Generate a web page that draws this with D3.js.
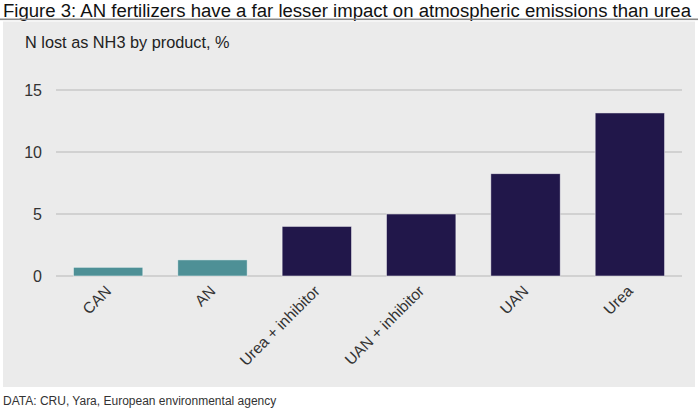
<!DOCTYPE html>
<html><head><meta charset="utf-8">
<script src="https://cdn.jsdelivr.net/npm/d3@7"></script>
<style>
body{margin:0;background:#fff;}
svg text{font-family:"Liberation Sans",Arial,sans-serif;}
</style></head>
<body>
<svg id="chart" width="698" height="410"></svg>
<script>
const categories = ["CAN","AN","Urea + inhibitor","UAN + inhibitor","UAN","Urea"];
const values = [0.7, 1.3, 4.0, 5.0, 8.25, 13.15];
const groups = ["AN","AN","other","other","other","other"];
const yTicks = [0, 5, 10, 15];
const titleText = "Figure 3: AN fertilizers have a far lesser impact on atmospheric emissions than urea";
const yTitle = "N lost as NH3 by product, %";
const sourceText = "DATA: CRU, Yara, European environmental agency";

const svg = d3.select("#chart");
const W = 698;

// title
svg.append("text").attr("x", 3).attr("y", 16.5).attr("fill", "#111")
  .style("font-size", "18px")
  .attr("textLength", 688).attr("lengthAdjust", "spacingAndGlyphs")
  .text(titleText);

svg.append("rect").attr("x", 0).attr("y", 18.5).attr("width", W).attr("height", 1.6).attr("fill", "#8a8a8a");
svg.append("rect").attr("x", 3).attr("y", 21.5).attr("width", 692).attr("height", 365.5).attr("fill", "#ebebeb");

const x = d3.scaleBand().domain(categories).range([56, 682]).paddingInner(0.335).paddingOuter(0.167);
const y = d3.scaleLinear().domain([0, 15]).range([276, 90]);

svg.append("text").attr("x", 25).attr("y", 48).attr("fill", "#222")
  .style("font-size", "16.3px").text(yTitle);

// grid
const g = svg.append("g");
g.selectAll("line.grid").data(yTicks).join("line")
  .attr("x1", 56).attr("x2", 682)
  .attr("y1", d => y(d)).attr("y2", d => y(d))
  .attr("stroke", "#c8c8c8").attr("stroke-width", 1.5);
g.selectAll("text.tick").data(yTicks).join("text")
  .attr("x", 42).attr("y", d => y(d) + 6).attr("text-anchor", "end")
  .attr("fill", "#333").style("font-size", "16px").text(d => d);

// bars
svg.append("g").selectAll("rect").data(categories).join("rect")
  .attr("x", d => x(d)).attr("width", x.bandwidth())
  .attr("y", (d, i) => y(values[i])).attr("height", (d, i) => y(0) - y(values[i]))
  .attr("fill", (d, i) => groups[i] === "AN" ? "#4e9096" : "#21174a")
  .attr("stroke", "#ffffff").attr("stroke-opacity", 0.6).attr("stroke-width", 0.8);

// x labels
svg.append("g").selectAll("text").data(categories).join("text")
  .attr("transform", d => `translate(${x(d) + x.bandwidth() / 2 + 4},${292}) rotate(-45)`)
  .attr("text-anchor", "end").attr("fill", "#333")
  .style("font-size", "15.5px").text(d => d);

svg.append("text").attr("x", 3).attr("y", 405).attr("fill", "#333")
  .style("font-size", "12px").text(sourceText);
</script>
</body></html>
